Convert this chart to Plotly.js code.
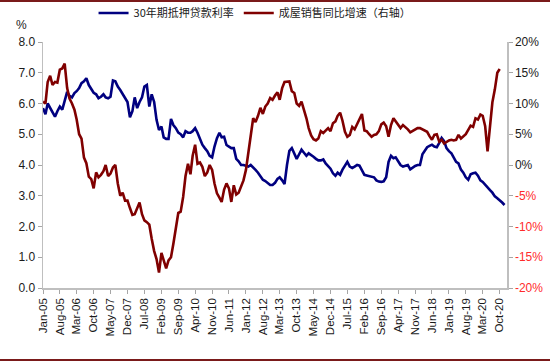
<!DOCTYPE html>
<html>
<head>
<meta charset="utf-8">
<script src="https://cdn.plot.ly/plotly-3.0.1.min.js"></script>
<style>
html,body{margin:0;padding:0;background:#fff;}
#chart{width:550px;height:362px;}
</style>
</head>
<body>
<div id="chart"></div>
<script>
// ---- data ----
const startYear = 2005;
const seriesNames = ['30年期抵押贷款利率', '成屋销售同比增速（右轴）'];

// 30-year mortgage rate, monthly Jan-05 .. Dec-20 (%)
const mortgageRate = [
5.85,5.65,6.00,5.85,5.70,5.57,5.75,5.90,5.80,6.10,6.38,6.25,
6.20,6.34,6.40,6.50,6.66,6.72,6.82,6.60,6.45,6.35,6.30,6.17,
6.22,6.30,6.20,6.17,6.22,6.75,6.72,6.55,6.44,6.30,6.17,6.05,
5.55,5.75,6.20,5.85,6.05,6.20,6.55,6.60,5.90,6.30,6.05,5.47,
5.14,5.25,4.90,4.85,4.85,5.50,5.30,5.20,5.05,5.00,4.90,5.10,
5.05,5.05,5.10,5.20,5.05,4.87,4.66,4.55,4.45,4.30,4.25,4.60,
4.87,5.05,4.90,4.92,4.65,4.60,4.55,4.55,4.20,4.12,4.00,4.00,
3.98,3.95,4.00,3.90,3.84,3.75,3.62,3.52,3.48,3.40,3.35,3.35,
3.42,3.55,3.60,3.50,3.38,4.00,4.46,4.55,4.35,4.20,4.35,4.50,
4.40,4.30,4.38,4.33,4.27,4.20,4.15,4.15,4.18,4.05,3.95,3.88,
3.73,3.65,3.75,3.68,3.85,4.00,4.10,3.95,3.90,3.95,4.00,3.98,
3.80,3.68,3.66,3.64,3.62,3.60,3.50,3.46,3.45,3.47,3.60,4.10,
4.30,4.22,4.25,4.10,4.00,3.95,3.97,4.00,3.86,3.92,3.97,4.00,
4.00,4.35,4.45,4.58,4.62,4.66,4.60,4.58,4.72,4.88,4.78,4.55,
4.45,4.38,4.25,4.10,4.05,3.85,3.75,3.60,3.52,3.70,3.73,3.75,
3.65,3.50,3.45,3.35,3.25,3.18,3.10,2.98,2.92,2.86,2.78,2.70
];

// Existing home sales YoY growth, monthly Jan-05 .. Oct-20 (%)
const homeSalesYoY = [
10.3,10.0,13.5,14.5,13.0,13.5,13.4,15.5,15.7,16.5,12.5,10.8,
10.0,9.0,7.4,5.0,4.3,1.2,0.3,-1.9,-2.3,-3.8,-1.2,-2.0,
-1.6,-1.0,0.0,-1.8,-1.4,-0.4,0.0,-3.0,-5.0,-4.5,-5.8,-5.8,
-7.0,-8.1,-8.0,-7.0,-6.1,-8.0,-9.0,-9.3,-9.7,-12.0,-14.0,-15.3,
-17.5,-14.3,-15.6,-16.8,-15.5,-15.0,-12.8,-10.0,-7.8,-7.6,-5.2,-1.8,
0.2,-1.5,1.5,3.3,0.2,0.4,-0.3,-1.8,-1.2,0.0,-0.8,-3.0,
-4.6,-5.3,-6.0,-4.0,-3.0,-3.8,-6.0,-3.3,-4.8,-4.5,-3.4,-2.5,
-0.8,1.9,5.2,7.6,7.0,8.0,9.3,8.3,9.5,10.0,10.9,10.6,
11.3,11.8,10.6,12.5,13.5,13.6,13.6,12.0,11.7,10.0,9.6,10.3,
9.0,7.6,6.0,4.8,4.2,4.0,4.3,5.5,5.2,5.6,6.0,5.5,
6.8,7.1,8.0,8.5,7.2,5.4,4.6,4.9,6.2,5.8,6.6,7.5,
8.3,5.6,5.5,5.0,4.6,4.9,5.0,5.5,6.6,6.9,6.3,4.6,
6.5,7.6,7.1,6.4,6.0,6.5,6.2,5.8,5.3,5.5,5.7,6.0,
6.0,5.8,5.6,5.4,4.7,4.1,4.9,5.0,3.8,4.1,3.5,3.8,
4.0,4.1,4.0,4.1,4.9,4.3,4.7,5.0,5.7,6.4,6.2,7.6,
7.4,8.2,8.0,6.3,2.2,5.8,10.2,12.3,15.0,15.6
];

const xTickLabels = ['Jan-05','Aug-05','Mar-06','Oct-06','May-07','Dec-07','Jul-08','Feb-09','Sep-09','Apr-10',
'Nov-10','Jun-11','Jan-12','Aug-12','Mar-13','Oct-13','May-14','Dec-14','Jul-15','Feb-16','Sep-16','Apr-17',
'Nov-17','Jun-18','Jan-19','Aug-19','Mar-20','Oct-20'];
const xTickDates = ['2005-01-01','2005-08-01','2006-03-01','2006-10-01','2007-05-01','2007-12-01','2008-07-01',
'2009-02-01','2009-09-01','2010-04-01','2010-11-01','2011-06-01','2012-01-01','2012-08-01','2013-03-01',
'2013-10-01','2014-05-01','2014-12-01','2015-07-01','2016-02-01','2016-09-01','2017-04-01','2017-11-01',
'2018-06-01','2019-01-01','2019-08-01','2020-03-01','2020-10-01'];
const leftTicks = [0,1,2,3,4,5,6,7,8];
const rightTicks = [-20,-15,-10,-5,0,5,10,15,20];

// ---- build ----
function monthDates(n){
  const out = [];
  for (let i = 0; i < n; i++) {
    const y = startYear + Math.floor(i / 12);
    const m = (i % 12) + 1;
    out.push(y + '-' + String(m).padStart(2, '0') + '-01');
  }
  return out;
}

const rightTickText = rightTicks.map(v => v < 0
  ? '<span style="color:#ff2b2b">' + v + '%</span>'
  : v + '%');

const traces = [
  {
    x: monthDates(mortgageRate.length), y: mortgageRate,
    name: seriesNames[0], type: 'scatter', mode: 'lines',
    line: {color: '#000080', width: 2.6}, yaxis: 'y'
  },
  {
    x: monthDates(homeSalesYoY.length), y: homeSalesYoY,
    name: seriesNames[1], type: 'scatter', mode: 'lines',
    line: {color: '#800000', width: 2.6}, yaxis: 'y2'
  }
];

const axisFont = {family: 'Liberation Sans, Arial, sans-serif', size: 12, color: '#1a1a1a'};

const layout = {
  width: 550, height: 362,
  margin: {l: 43, r: 43, t: 42, b: 74, pad: 0, autoexpand: false},
  paper_bgcolor: '#ffffff', plot_bgcolor: '#ffffff',
  showlegend: true,
  legend: {
    orientation: 'h', x: 0.457, xanchor: 'center', y: 1.118, yanchor: 'middle',
    font: {family: 'Noto Sans CJK SC, sans-serif', size: 11, color: '#1a1a1a'},
    itemwidth: 30, bgcolor: 'rgba(0,0,0,0)'
  },
  xaxis: {
    type: 'date',
    range: ['2005-01-01', '2021-01-01'],
    tickmode: 'array', tickvals: xTickDates, ticktext: xTickLabels,
    tickangle: -90, tickfont: {family: 'Liberation Sans, Arial, sans-serif', size: 11.5, color: '#1a1a1a'},
    ticks: 'outside', ticklen: 4, tickcolor: '#a6a6a6', tickwidth: 1,
    showline: true, linecolor: '#bfbfbf', linewidth: 1.5,
    showgrid: false, zeroline: false, fixedrange: true
  },
  yaxis: {
    range: [0, 8], tickmode: 'array', tickvals: leftTicks,
    tickformat: '.1f', tickfont: axisFont,
    ticks: 'outside', ticklen: 4, tickcolor: '#a6a6a6', tickwidth: 1,
    showline: true, linecolor: '#bfbfbf', linewidth: 1.5,
    showgrid: false, zeroline: false, fixedrange: true
  },
  yaxis2: {
    overlaying: 'y', side: 'right',
    range: [-20, 20], tickmode: 'array', tickvals: rightTicks, ticktext: rightTickText,
    tickfont: axisFont,
    ticks: 'outside', ticklen: 4, tickcolor: '#a6a6a6', tickwidth: 1,
    showline: true, linecolor: '#bfbfbf', linewidth: 1.5,
    showgrid: false, zeroline: false, fixedrange: true
  },
  annotations: [
    {text: '%', xref: 'paper', yref: 'paper', x: -0.046, y: 1.069,
     xanchor: 'center', yanchor: 'middle', showarrow: false,
     font: {family: 'Liberation Sans, Arial, sans-serif', size: 12, color: '#1a1a1a'}}
  ],
  shapes: [
    {type: 'line', xref: 'paper', yref: 'paper', x0: -0.1, x1: 1.1, y0: 1.1667, y1: 1.1667,
     line: {color: '#7a1a1a', width: 2}},
    {type: 'line', xref: 'paper', yref: 'paper', x0: -0.1, x1: 1.1, y0: -0.2927, y1: -0.2927,
     line: {color: '#7a1a1a', width: 2}}
  ]
};

Plotly.newPlot('chart', traces, layout, {displayModeBar: false, staticPlot: true});
</script>
</body>
</html>
